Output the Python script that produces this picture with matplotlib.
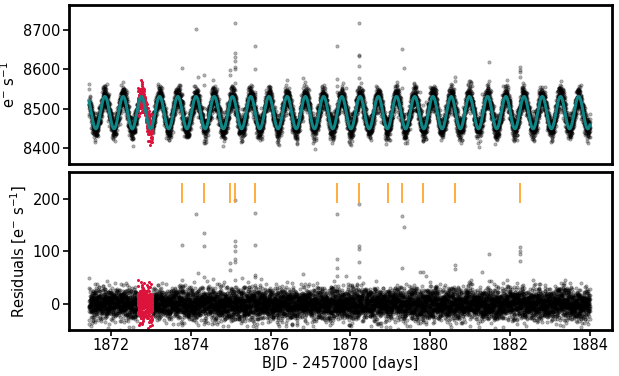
import numpy as np
import matplotlib
matplotlib.use("Agg")
import matplotlib.pyplot as plt

# ---- values ----
t_start, t_end = 1871.45, 1884.0          # BJD - 2457000
cadence_days = 2.0 / 60 / 24              # 2-min cadence
model_mean = 8490.0                       # e-/s
model_amp = 41.0
model_period = 0.4565                     # days
model_t_peak = 1871.85
noise_std = 15.0
red_window = (1872.67, 1873.04)
red_noise_std = 18.0

flare_times = [1873.79, 1874.34, 1874.99, 1875.10, 1875.62, 1877.67,
               1878.21, 1878.93, 1879.28, 1879.82, 1880.61, 1882.25]
flare_mark_bottom, flare_mark_top = 192, 230

outlier_times = [1873.79, 1873.79, 1874.13, 1874.34, 1874.34, 1874.34,
                 1874.99, 1874.99, 1875.10, 1875.10, 1875.10, 1875.10,
                 1875.10, 1875.10, 1875.10, 1875.62, 1875.62, 1875.62,
                 1875.62, 1876.82, 1877.67, 1877.67, 1877.67, 1877.67,
                 1878.21, 1878.21, 1878.21, 1878.21, 1878.21, 1879.28,
                 1879.28, 1879.33, 1879.82, 1880.61, 1880.61, 1881.30,
                 1881.48, 1882.25, 1882.25, 1882.25, 1882.25]
outlier_resid = [112, 45, 170, 135, 110, 50,
                 78, 65, 198, 120, 110, 100,
                 85, 80, 45, 172, 112, 55,
                 50, 56, 170, 85, 68, 52,
                 190, 109, 105, 80, 50, 167,
                 68, 145, 60, 74, 66, 60,
                 95, 107, 100, 95, 82]

xlim = (1870.95, 1884.55)
ylim_top = (8360, 8762)
ylim_bot = (-50, 250)
xticks = [1872, 1874, 1876, 1878, 1880, 1882, 1884]
yticks_top = [8400, 8500, 8600, 8700]
yticks_bot = [0, 100, 200]

# ---- build series ----
t = np.arange(t_start, t_end, cadence_days)
model = model_mean + model_amp * np.cos(2 * np.pi * (t - model_t_peak) / model_period)
rng = np.random.default_rng(3)
resid = rng.normal(0, noise_std, t.size)
red = (t >= red_window[0]) & (t <= red_window[1])
resid[red] = rng.normal(0, red_noise_std, red.sum())
ot = np.array(outlier_times)
omodel = model_mean + model_amp * np.cos(2 * np.pi * (ot - model_t_peak) / model_period)
ores = np.array(outlier_resid, dtype=float)

flux = model + resid
oflux = omodel + ores

FS = 10.5
plt.rcParams['font.family'] = ['DejaVu Sans']
plt.rcParams['font.size'] = FS

fig = plt.figure(figsize=(6.19, 3.76), dpi=100)
ax1 = fig.add_axes([0.1115, 0.564, 0.877, 0.422])
ax2 = fig.add_axes([0.1115, 0.122, 0.877, 0.420])

kw = dict(ls='none', marker='o', ms=2.4, color='k', alpha=0.3, mew=0.5)
ax1.plot(t[~red], flux[~red], **kw)
ax1.plot(ot, oflux, **kw)
ax1.plot(t[red], flux[red], ls='none', marker='o', ms=2.2, color='#DC143C', mew=0)
ax1.plot(t, model, color='#108585', lw=2.2)

ax2.plot(t[~red], resid[~red], **kw)
ax2.plot(ot, ores, **kw)
ax2.plot(t[red], resid[red], ls='none', marker='o', ms=2.2, color='#DC143C', mew=0)
ax2.vlines(flare_times, flare_mark_bottom, flare_mark_top, color='#FF9E1F', lw=1.2)

for ax in (ax1, ax2):
    ax.set_xlim(*xlim)
    for s in ax.spines.values():
        s.set_linewidth(2.0)
    ax.tick_params(width=1.2, length=4, pad=2, labelsize=FS)

ax1.set_ylim(*ylim_top)
ax1.set_yticks(yticks_top)
ax1.set_xticks([])
ax1.set_ylabel(r'e$^{-}$ s$^{-1}$', fontsize=FS)
ax1.yaxis.set_label_coords(-0.094, 0.5)

ax2.set_ylim(*ylim_bot)
ax2.set_yticks(yticks_bot)
ax2.set_xticks(xticks)
ax2.set_ylabel(r'Residuals [e$^{-}$ s$^{-1}$]', fontsize=FS)
ax2.yaxis.set_label_coords(-0.073, 0.5)
ax2.set_xlabel('BJD - 2457000 [days]', fontsize=FS, labelpad=2)

fig.savefig('out.png', dpi=100)
